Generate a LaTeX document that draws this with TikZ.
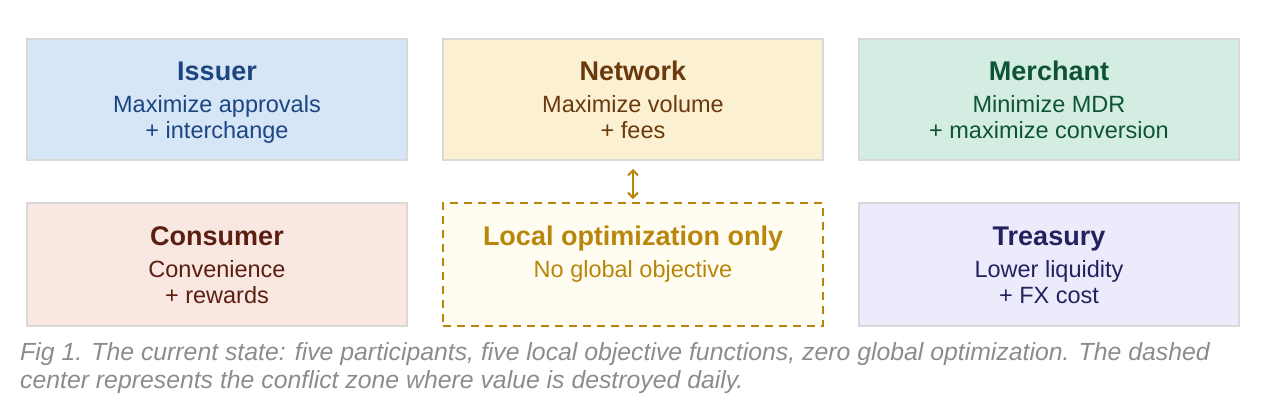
\documentclass[tikz,border=0pt]{standalone}
\usepackage{fontspec}
\setmainfont{Liberation Sans}
\usetikzlibrary{arrows.meta}

\definecolor{boxline}{HTML}{D9D9D9}
\definecolor{issuerfill}{HTML}{D6E6F6}
\definecolor{issuertext}{HTML}{1B4682}
\definecolor{networkfill}{HTML}{FBF0D1}
\definecolor{networktext}{HTML}{6A3A0C}
\definecolor{merchantfill}{HTML}{D4EDE3}
\definecolor{merchanttext}{HTML}{0E5434}
\definecolor{consumerfill}{HTML}{F9E7E1}
\definecolor{consumertext}{HTML}{5A1F10}
\definecolor{treasuryfill}{HTML}{ECEBFB}
\definecolor{treasurytext}{HTML}{26205E}
\definecolor{localfill}{HTML}{FFFCF2}
\definecolor{localline}{HTML}{B8860B}
\definecolor{captiongray}{HTML}{8C8C8C}

% title, then two lines; rule and strut keep every box's text block the same height
\newcommand{\partytext}[3]{{\fontsize{27}{30}\bfseries\selectfont\rule{0pt}{28pt}#1}\\[6pt]#2\\#3\strut}

\tikzset{
  party/.style={draw=boxline, line width=2pt, minimum width=380pt, minimum height=121pt,
    align=center, font=\fontsize{23.5}{26}\selectfont},
  zone/.style={party, draw=localline, dash pattern=on 8pt off 6pt, fill=localfill,
    text=localline, minimum height=123pt}
}

\begin{document}
\begin{tikzpicture}[x=1pt,y=-1pt]
  \useasboundingbox (0,0) rectangle (1270,416);

  % top row
  \node[party, fill=issuerfill, text=issuertext] (issuer) at (217,99.5)
    {\partytext{Issuer}{Maximize approvals}{+ interchange}};
  \node[party, fill=networkfill, text=networktext] (network) at (633,99.5)
    {\partytext{Network}{Maximize volume}{+ fees}};
  \node[party, fill=merchantfill, text=merchanttext] (merchant) at (1049,99.5)
    {\partytext{Merchant}{Minimize MDR}{+ maximize conversion}};

  % bottom row
  \node[party, fill=consumerfill, text=consumertext, minimum height=123pt] (consumer) at (217,264.5)
    {\partytext{Consumer}{Convenience}{+ rewards}};
  \node[zone] (local) at (633,264.5)
    {\partytext{Local optimization only}{No global objective}{}};
  \node[party, fill=treasuryfill, text=treasurytext, minimum height=123pt] (treasury) at (1049,264.5)
    {\partytext{Treasury}{Lower liquidity}{+ FX cost}};

  % conflict arrow
  \draw[localline, line width=2pt, {Straight Barb[length=5pt,width=10pt]}-{Straight Barb[length=5pt,width=10pt]},
    shorten <=8pt, shorten >=3pt] (network.south) -- (local.north);

  % caption
  \node[anchor=north west, align=left, text=captiongray, inner sep=0pt,
    font=\fontsize{24.8}{28}\itshape\selectfont] (caption) at (20,342)
    {Fig 1. The current state: five participants, five local objective functions, zero global optimization. The dashed\\
     center represents the conflict zone where value is destroyed daily.};
\end{tikzpicture}
\end{document}
